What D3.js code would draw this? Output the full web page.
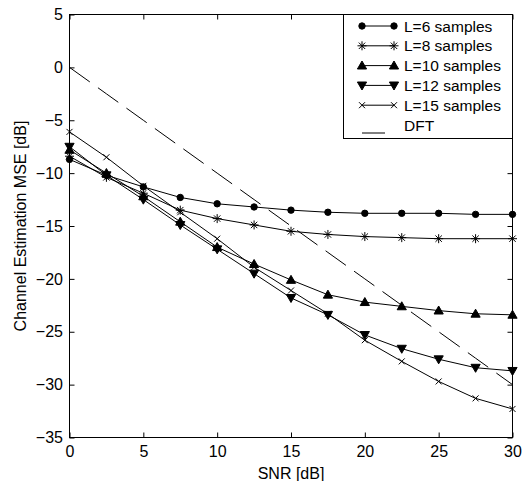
<!DOCTYPE html>
<html>
  <head>
    <meta charset="utf-8">
    <title>Channel Estimation MSE vs SNR</title>
    <style>
      body { margin: 0; background: white; }
      text { font-family: "Liberation Sans", Arial, sans-serif; fill: black; }
      .tick text { font-size: 16px; }
      .axis-label { font-size: 16px; }
      .legend text { font-size: 15.5px; }
    </style>
  </head>
  <body>
    <script src="https://d3js.org/d3.v7.min.js"></script>
    <script>
      const width = 523;
      const height = 481;

      // SNR points (dB)
      const snr = [0, 2.5, 5, 7.5, 10, 12.5, 15, 17.5, 20, 22.5, 25, 27.5, 30];

      // MSE values (dB)
      const mseL6  = [-8.7, -10.2, -11.3, -12.3, -12.9, -13.2, -13.5, -13.7, -13.8, -13.8, -13.8, -13.9, -13.9];
      const mseL8  = [-8.4, -10.4, -11.9, -13.5, -14.3, -14.9, -15.5, -15.8, -16.0, -16.1, -16.2, -16.2, -16.2];
      const mseL10 = [-7.8, -10.0, -12.2, -14.6, -17.0, -18.6, -20.1, -21.5, -22.2, -22.6, -23.0, -23.3, -23.4];
      const mseL12 = [-7.5, -10.2, -12.5, -14.9, -17.2, -19.5, -21.8, -23.4, -25.3, -26.6, -27.6, -28.4, -28.7];
      const mseL15 = [-6.1, -8.5, -11.2, -13.7, -16.2, -18.9, -21.1, -23.3, -25.8, -27.8, -29.7, -31.3, -32.3];
      const mseDFT = [0, -2.5, -5, -7.5, -10, -12.5, -15, -17.5, -20, -22.5, -25, -27.5, -30];

      const seriesNames = ["L=6 samples", "L=8 samples", "L=10 samples", "L=12 samples", "L=15 samples", "DFT"];
      const seriesValues = [mseL6, mseL8, mseL10, mseL12, mseL15, mseDFT];
      const seriesMarkers = ["circle", "asterisk", "triUp", "triDown", "cross", "none"];

      const xTicks = [0, 5, 10, 15, 20, 25, 30];
      const yTicks = [-35, -30, -25, -20, -15, -10, -5, 0, 5];

      const plotLeft = 69.5, plotRight = 512.5, plotTop = 14.5, plotBottom = 437.5;

      const x = d3.scaleLinear().domain([0, 30]).range([plotLeft, plotRight]);
      const y = d3.scaleLinear().domain([-35, 5]).range([plotBottom, plotTop]);

      const svg = d3.select("body")
        .append("svg")
        .attr("width", width)
        .attr("height", height);

      // marker shapes as path strings centred on 0,0
      function markerPath(type) {
        if (type === "circle") {
          const r = 3.2;
          return `M${-r},0A${r},${r} 0 1,0 ${r},0A${r},${r} 0 1,0 ${-r},0Z`;
        }
        if (type === "triUp") return "M0,-4.6L4.6,3.4L-4.6,3.4Z";
        if (type === "triDown") return "M0,4.6L4.6,-3.4L-4.6,-3.4Z";
        if (type === "asterisk") return "M-4.5,0L4.5,0M0,-4.5L0,4.5M-3.2,-3.2L3.2,3.2M-3.2,3.2L3.2,-3.2";
        if (type === "cross") return "M-3,-3L3,3M-3,3L3,-3";
        return "";
      }
      function drawMarker(g, type, px, py) {
        if (type === "none") return;
        const filled = type === "circle" || type === "triUp" || type === "triDown";
        g.append("path")
          .attr("d", markerPath(type))
          .attr("transform", `translate(${px},${py})`)
          .attr("fill", filled ? "black" : "none")
          .attr("stroke", "black")
          .attr("stroke-width", 1);
      }

      // axes with inward ticks on all four sides
      const xAxis = d3.axisBottom(x).tickValues(xTicks).tickSizeInner(-5).tickSizeOuter(0).tickPadding(8);
      const yAxis = d3.axisLeft(y).tickValues(yTicks).tickSizeInner(-5).tickSizeOuter(0).tickPadding(6.5);

      const gx = svg.append("g").attr("transform", `translate(0,${plotBottom})`).call(xAxis);
      const gy = svg.append("g").attr("transform", `translate(${plotLeft},0)`).call(yAxis);
      [gx, gy].forEach(g => {
        g.select(".domain").remove();
        g.selectAll(".tick line").attr("stroke", "black");
        g.attr("font-family", null).attr("font-size", null);
      });

      svg.append("g").attr("transform", `translate(0,${plotTop})`)
        .call(d3.axisTop(x).tickValues(xTicks).tickSizeInner(-5).tickSizeOuter(0).tickFormat(""))
        .call(g => g.select(".domain").remove())
        .selectAll(".tick line").attr("stroke", "black");
      svg.append("g").attr("transform", `translate(${plotRight},0)`)
        .call(d3.axisRight(y).tickValues(yTicks).tickSizeInner(-5).tickSizeOuter(0).tickFormat(""))
        .call(g => g.select(".domain").remove())
        .selectAll(".tick line").attr("stroke", "black");

      svg.append("rect")
        .attr("x", plotLeft).attr("y", plotTop)
        .attr("width", plotRight - plotLeft).attr("height", plotBottom - plotTop)
        .attr("fill", "none").attr("stroke", "black");

      // series
      const line = d3.line()
        .x((d, i) => x(snr[i]))
        .y(d => y(d));

      const plot = svg.append("g");
      seriesValues.forEach((vals, k) => {
        plot.append("path")
          .datum(vals)
          .attr("d", line)
          .attr("fill", "none")
          .attr("stroke", "black")
          .attr("stroke-width", 1)
          .attr("stroke-dasharray", seriesMarkers[k] === "none" ? "25 10" : null);
        vals.forEach((v, i) => drawMarker(plot, seriesMarkers[k], x(snr[i]), y(v)));
      });

      // axis labels
      svg.append("text")
        .attr("class", "axis-label")
        .attr("x", (plotLeft + plotRight) / 2)
        .attr("y", 479)
        .attr("text-anchor", "middle")
        .text("SNR [dB]");

      svg.append("text")
        .attr("class", "axis-label")
        .attr("transform", `translate(26,${(plotTop + plotBottom) / 2}) rotate(-90)`)
        .attr("text-anchor", "middle")
        .text("Channel Estimation MSE [dB]");

      // legend
      const legend = svg.append("g").attr("class", "legend");
      legend.append("rect")
        .attr("x", 343.5).attr("y", plotTop)
        .attr("width", plotRight - 343.5).attr("height", 124)
        .attr("fill", "white").attr("stroke", "black");

      seriesNames.forEach((name, k) => {
        const cy = 26 + k * 19.8;
        if (seriesMarkers[k] === "none") {
          // only the first dash of the dashed line shows in the sample
          legend.append("line")
            .attr("x1", 362).attr("x2", 385)
            .attr("y1", cy + 8).attr("y2", cy + 8)
            .attr("stroke", "black");
        } else {
          legend.append("line")
            .attr("x1", 362).attr("x2", 394)
            .attr("y1", cy).attr("y2", cy)
            .attr("stroke", "black");
          drawMarker(legend, seriesMarkers[k], 362, cy);
          drawMarker(legend, seriesMarkers[k], 394, cy);
        }
        legend.append("text")
          .attr("x", 404)
          .attr("y", cy)
          .attr("dy", "0.36em")
          .text(name);
      });
    </script>
  </body>
</html>
